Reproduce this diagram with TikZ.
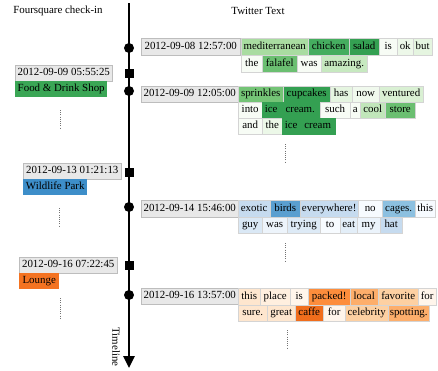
\documentclass[tikz,border=0pt]{standalone}
\usepackage{fontspec}
\setmainfont{Liberation Serif}
\usetikzlibrary{arrows.meta}
\definecolor{Ga}{HTML}{F7FCF5}
\definecolor{Gb}{HTML}{E5F5E0}
\definecolor{Gc}{HTML}{C7E9C0}
\definecolor{Gd}{HTML}{A9DCA1}
\definecolor{Ge}{HTML}{74C476}
\definecolor{Gf}{HTML}{45AD5F}
\definecolor{Gg}{HTML}{34A052}
\definecolor{Ba}{HTML}{F7FBFF}
\definecolor{Bb}{HTML}{E3EEF8}
\definecolor{Bc}{HTML}{C6DBEF}
\definecolor{Bd}{HTML}{8CC0E0}
\definecolor{Be}{HTML}{5A9FD0}
\definecolor{Oa}{HTML}{FFF5EB}
\definecolor{Ob}{HTML}{FEE6CE}
\definecolor{Oc}{HTML}{FDD0A2}
\definecolor{Od}{HTML}{FDAE6B}
\definecolor{Oe}{HTML}{FD8D3C}
\definecolor{Of}{HTML}{F06D1C}
\definecolor{catG}{HTML}{3AA655}
\definecolor{catB}{HTML}{3D8EC9}
\definecolor{catO}{HTML}{F47321}
\definecolor{tsfill}{HTML}{E8E8E8}
\definecolor{tsdraw}{HTML}{BDBDBD}
\tikzset{
  base/.style={inner sep=0pt, anchor=north west, text height=7.9pt, text depth=2.5pt,
    font=\fontsize{10.9}{12}\selectfont},
  wbox/.style={base, draw=black!17, line width=0.4pt, minimum height=17pt},
  wbox16/.style={base, draw=black!17, line width=0.4pt, minimum height=16pt},
  tsbox/.style={base, fill=tsfill, draw=tsdraw, line width=0.5pt, minimum height=16pt},
  catbox/.style={base, minimum height=16pt},
  hdr/.style={font=\fontsize{10.9}{12}\selectfont, inner sep=0pt},
  dotline/.style={draw=black!55, line width=0.7pt, dash pattern=on 0.6pt off 1.6pt},
  evdot/.style={circle, fill=black, minimum size=10pt, inner sep=0pt},
  evsq/.style={rectangle, fill=black, minimum size=9pt, inner sep=0pt}
}
\begin{document}
\begin{tikzpicture}[x=1pt,y=-1pt]
\useasboundingbox (0,0) rectangle (438,370);
% headers
\node[hdr] (h1) at (58,11) {Foursquare check-in};
\node[hdr] (h2) at (258,11) {Twitter Text};
% timeline
\coordinate (tltop) at (129,3);
\coordinate (tlbot) at (129,368);
\draw[line width=2.8pt, -{Triangle[width=11pt,length=12pt]}] (tltop) -- (tlbot);
\node[rotate=-90, hdr] (tll) at (116,347) {Timeline};
\node[evdot] (e1) at (129,48) {};
\node[evsq] (s1) at (129,73) {};
\node[evdot] (e2) at (129,91) {};
\node[evsq] (s2) at (129,172) {};
\node[evdot] (e3) at (129,207) {};
\node[evsq] (s3) at (129,265) {};
\node[evdot] (e4) at (129,295) {};
% check-ins
\node[tsbox, minimum width=97pt] (c1t) at (15,65) {2012-09-09 05:55:25};
\node[catbox, fill=catG, minimum width=92pt] (c1c) at (15,81) {Food \& Drink Shop};
\node[tsbox, minimum width=98pt] (c2t) at (23,163) {2012-09-13 01:21:13};
\node[catbox, fill=catB, minimum width=64pt] (c2c) at (23,179) {Wildlife Park};
\node[tsbox, minimum width=98pt] (c3t) at (19,257) {2012-09-16 07:22:45};
\node[catbox, fill=catO, minimum width=40pt] (c3c) at (19,273) {Lounge};
% left dots
\coordinate (ld1a) at (60,110); \coordinate (ld1b) at (60,129);
\coordinate (ld2a) at (59,208); \coordinate (ld2b) at (59,227);
\coordinate (ld3a) at (60,298); \coordinate (ld3b) at (60,318);
\draw[dotline] (ld1a) -- (ld1b);
\draw[dotline] (ld2a) -- (ld2b);
\draw[dotline] (ld3a) -- (ld3b);
% tweet 1
\node[tsbox, minimum width=99pt, minimum height=17pt] (t1) at (141,38) {2012-09-08 12:57:00};
\node[wbox, fill=Gd, minimum width=67pt] (t1a) at (241,38) {mediterranean};
\node[wbox, fill=Gf, minimum width=41pt] (t1b) at (308,38) {chicken};
\node[wbox, fill=Gg, minimum width=30pt] (t1c) at (349,38) {salad};
\node[wbox, fill=Ga, minimum width=18pt] (t1d) at (379,38) {is};
\node[wbox, fill=Gb!70, minimum width=16pt] (t1e) at (397,38) {ok};
\node[wbox, fill=Gb, minimum width=19pt] (t1f) at (413,38) {but};
\node[wbox, fill=Ga, minimum width=21pt] (t1g) at (241,55) {the};
\node[wbox, fill=Ge!80!Gf, minimum width=35pt] (t1h) at (262,55) {falafel};
\node[wbox, fill=Ga, minimum width=24pt] (t1i) at (297,55) {was};
\node[wbox, fill=Gc, minimum width=46pt] (t1j) at (321,55) {amazing.};
% tweet 2
\node[tsbox, minimum width=97pt] (t2) at (141,86) {2012-09-09 12:05:00};
\node[wbox16, fill=Ge, minimum width=45pt] (t2a) at (238,86) {sprinkles};
\node[wbox16, fill=Gg, minimum width=47pt] (t2b) at (283,86) {cupcakes};
\node[wbox16, fill=Gb, minimum width=22pt] (t2c) at (330,86) {has};
\node[wbox16, fill=Ga!60!Gb, minimum width=27pt] (t2d) at (352,86) {now};
\node[wbox16, fill=Gb!60!Gc, minimum width=44pt] (t2e) at (379,86) {ventured};
\node[wbox16, fill=Ga, minimum width=24pt] (t2f) at (238,102) {into};
\node[wbox16, fill=Gg, draw=Gg, minimum width=18pt] (t2g) at (262,102) {ice};
\node[wbox16, fill=Gg, draw=Gg, minimum width=40pt] (t2h) at (280,102) {cream.};
\node[wbox16, fill=Ga, minimum width=30pt] (t2i) at (320,102) {such};
\node[wbox16, fill=Ga, minimum width=10pt] (t2j) at (350,102) {a};
\node[wbox16, fill=Gc!80!Gd, minimum width=25pt] (t2k) at (360,102) {cool};
\node[wbox16, fill=Ge!80!Gf, minimum width=30pt] (t2l) at (385,102) {store};
\node[wbox16, fill=Ga, minimum width=24pt] (t2m) at (238,118) {and};
\node[wbox16, fill=Ga!40!Gb, minimum width=20pt] (t2n) at (262,118) {the};
\node[wbox16, fill=Gg, draw=Gg, minimum width=18pt] (t2o) at (282,118) {ice};
\node[wbox16, fill=Gg, draw=Gg, minimum width=35pt] (t2p) at (300,118) {cream};
\coordinate (rd1a) at (285,144); \coordinate (rd1b) at (285,163);
\draw[dotline] (rd1a) -- (rd1b);
% tweet 3
\node[tsbox, minimum width=97pt, minimum height=17pt] (t3) at (141,200) {2012-09-14 15:46:00};
\node[wbox, fill=Bc, minimum width=32pt] (t3a) at (238,200) {exotic};
\node[wbox, fill=Be, minimum width=30pt] (t3b) at (270,200) {birds};
\node[wbox, fill=Bc, minimum width=58pt] (t3c) at (300,200) {everywhere!};
\node[wbox, fill=Ba, minimum width=24pt] (t3d) at (358,200) {no};
\node[wbox, fill=Bd, minimum width=33pt] (t3e) at (382,200) {cages.};
\node[wbox, fill=Ba, minimum width=20pt] (t3f) at (415,200) {this};
\node[wbox16, fill=Bb!70!Bc, minimum width=24pt] (t3g) at (238,217) {guy};
\node[wbox16, fill=Ba!50!Bb, minimum width=25pt] (t3h) at (262,217) {was};
\node[wbox16, fill=Bb!80!Bc, minimum width=33pt] (t3i) at (287,217) {trying};
\node[wbox16, fill=Ba, minimum width=20pt] (t3j) at (320,217) {to};
\node[wbox16, fill=Bb, minimum width=17pt] (t3k) at (340,217) {eat};
\node[wbox16, fill=Ba!40!Bb, minimum width=23pt] (t3l) at (357,217) {my};
\node[wbox16, fill=Bc, minimum width=22pt] (t3m) at (380,217) {hat};
\coordinate (rd2a) at (285,243); \coordinate (rd2b) at (285,261);
\draw[dotline] (rd2a) -- (rd2b);
% tweet 4
\node[tsbox, minimum width=97pt] (t4) at (141,288) {2012-09-16 13:57:00};
\node[wbox, fill=Ob, minimum width=22pt] (t4a) at (238,288) {this};
\node[wbox, fill=Oa!60!Ob, minimum width=30pt] (t4b) at (260,288) {place};
\node[wbox, fill=Oa, minimum width=18pt] (t4c) at (290,288) {is};
\node[wbox, fill=Oe, minimum width=42pt] (t4d) at (308,288) {packed!};
\node[wbox, fill=Od, minimum width=28pt] (t4e) at (350,288) {local};
\node[wbox, fill=Oc, minimum width=40pt] (t4f) at (378,288) {favorite};
\node[wbox, fill=Oa, minimum width=18pt] (t4g) at (418,288) {for};
\node[wbox16, fill=Ob, minimum width=29pt] (t4h) at (238,305) {sure.};
\node[wbox16, fill=Ob, minimum width=28pt] (t4i) at (267,305) {great};
\node[wbox16, fill=Of, minimum width=28pt] (t4j) at (295,305) {caffe};
\node[wbox16, fill=Oa, minimum width=22pt] (t4k) at (323,305) {for};
\node[wbox16, fill=Oc, minimum width=43pt] (t4l) at (345,305) {celebrity};
\node[wbox16, fill=Od, minimum width=41pt] (t4m) at (388,305) {spotting.};
\coordinate (rd3a) at (287,330); \coordinate (rd3b) at (287,348);
\draw[dotline] (rd3a) -- (rd3b);
\end{tikzpicture}
\end{document}
